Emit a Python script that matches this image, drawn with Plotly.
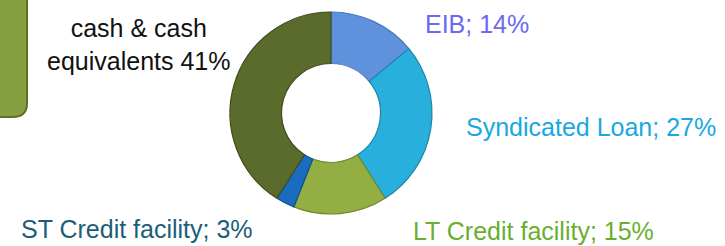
import plotly.graph_objects as go

labels = ["EIB", "Syndicated Loan", "LT Credit facility", "ST Credit facility", "cash & cash equivalents"]
values = [14, 27, 15, 3, 41]
slice_colors = ["#5f92dc", "#29afdc", "#93ae42", "#1a6cbf", "#5b6b2b"]
edge_colors = ["#4a78b8", "#1a86aa", "#6f8a2a", "#0f4f8f", "#3f4c1c"]
label_colors = ["#6a6aee", "#19a8e0", "#6aae30", "#1a5e78", "#111111"]
label_texts = ["EIB; 14%", "Syndicated Loan; 27%", "LT Credit facility; 15%",
               "ST Credit facility; 3%", "cash & cash<br>equivalents 41%"]

W, H = 725, 246
cx, cy, r = 331, 113, 101

fig = go.Figure(go.Pie(
    labels=labels, values=values, sort=False, direction="clockwise", rotation=0,
    hole=0.49, textinfo="none", hoverinfo="label+percent",
    marker=dict(colors=slice_colors, line=dict(color=edge_colors, width=1.2)),
    domain=dict(x=[(cx - r) / W, (cx + r) / W], y=[1 - (cy + r) / H, 1 - (cy - r) / H]),
    showlegend=False,
))

# label positions (pixels)
label_pos = [(477, 24), (591, 127), (533, 231), (137, 229), (138, 45)]
for t, c, (px, py) in zip(label_texts, label_colors, label_pos):
    fig.add_annotation(x=px / W, y=1 - py / H, xref="paper", yref="paper",
                       text=t, showarrow=False, xanchor="center", yanchor="middle",
                       font=dict(family="Liberation Sans, Arial", size=25, color=c))

# decorative green box on left edge
def px2(x, y):
    return f"{x / W},{1 - y / H}"

rad = 14
path = (f"M {px2(-10, -10)} L {px2(27, -10)} L {px2(27, 117 - rad)} "
        f"Q {px2(27, 117)} {px2(27 - rad, 117)} L {px2(-10, 117)} Z")
fig.add_shape(type="path", path=path, xref="paper", yref="paper",
              fillcolor="#87a03f", line=dict(color="#5e7226", width=2))

fig.update_layout(width=W, height=H, margin=dict(l=0, r=0, t=0, b=0),
                  paper_bgcolor="white", plot_bgcolor="white")
fig.write_html("out.html", config={"displayModeBar": False},
               post_script="document.body.style.margin='0';document.body.style.overflow='hidden';")
